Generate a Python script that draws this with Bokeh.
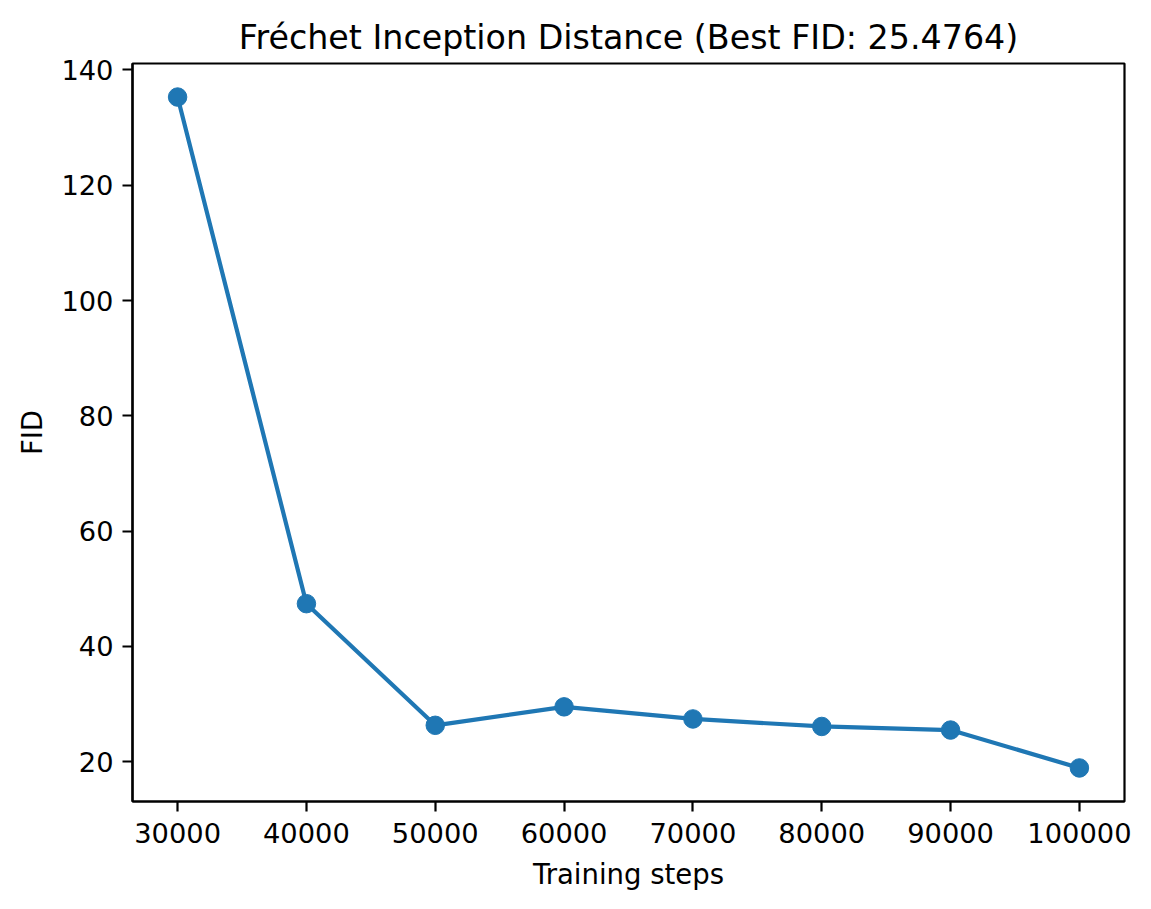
from bokeh.plotting import figure
from bokeh.models import FixedTicker, Range1d, NumeralTickFormatter
from bokeh.embed import file_html
from bokeh.resources import INLINE

steps = [30000, 40000, 50000, 60000, 70000, 80000, 90000, 100000]
fid = [135.3, 47.4, 26.3, 29.5, 27.4, 26.1, 25.4764, 18.9]
x_ticks = [30000, 40000, 50000, 60000, 70000, 80000, 90000, 100000]
y_ticks = [20, 40, 60, 80, 100, 120, 140]
title = "Fréchet Inception Distance (Best FID: 25.4764)"

color = "#1f77b4"
font = "DejaVu Sans"

xpad = (max(steps) - min(steps)) * 0.05
ypad = (max(fid) - min(fid)) * 0.05

p = figure(width=1151, height=909, output_backend="svg", toolbar_location=None,
           x_range=Range1d(min(steps) - xpad, max(steps) + xpad),
           y_range=Range1d(min(fid) - ypad, max(fid) + ypad),
           min_border_left=132, min_border_right=27, min_border_top=63, min_border_bottom=108,
           title=title)

p.line(steps, fid, line_color=color, line_width=4.2)
p.scatter(steps, fid, size=18.5, fill_color=color, line_color=color)

p.title.text_font = font
p.title.text_font_size = "33.3px"
p.title.text_font_style = "normal"
p.title.align = "center"
p.title.text_color = "black"
p.title.standoff = 14

p.xgrid.visible = False
p.ygrid.visible = False
p.outline_line_color = "black"
p.outline_line_width = 2.2
p.outline_line_alpha = 1.0

p.xaxis.ticker = FixedTicker(ticks=x_ticks)
p.yaxis.ticker = FixedTicker(ticks=y_ticks)
p.xaxis.formatter = NumeralTickFormatter(format="0")
p.yaxis.formatter = NumeralTickFormatter(format="0")
p.xaxis.axis_label = "Training steps"
p.yaxis.axis_label = "FID"

for ax in [p.xaxis, p.yaxis]:
    ax.axis_label_text_font = font
    ax.axis_label_text_font_size = "27.5px"
    ax.axis_label_text_font_style = "normal"
    ax.axis_label_text_color = "black"
    ax.major_label_text_font = font
    ax.major_label_text_font_size = "27.3px"
    ax.major_label_text_color = "black"
    ax.axis_line_width = 2.2
    ax.axis_line_color = "black"
    ax.major_tick_line_width = 2.2
    ax.major_tick_line_color = "black"
    ax.major_tick_out = 10
    ax.major_tick_in = 0
    ax.minor_tick_line_color = None
    ax.axis_label_standoff = 10

p.xaxis.major_label_standoff = 11
p.yaxis.major_label_standoff = 9
p.xaxis.axis_label_standoff = 12
p.yaxis.major_label_orientation = "horizontal"

open("out.html", "w").write(file_html(p, INLINE))
